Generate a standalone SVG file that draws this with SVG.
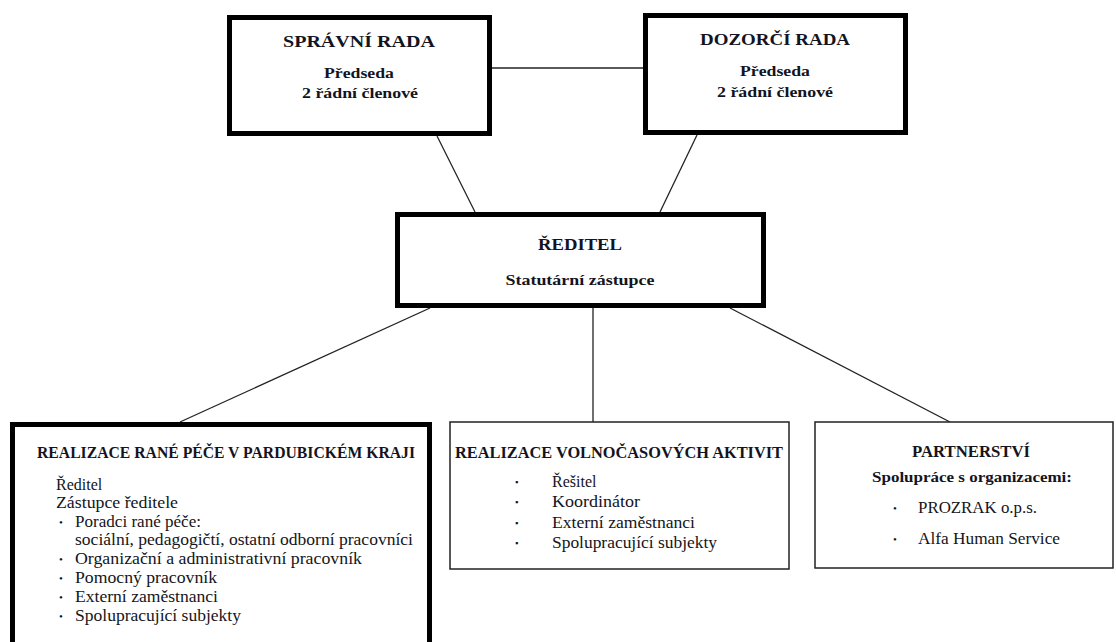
<svg xmlns="http://www.w3.org/2000/svg" width="1116" height="642" viewBox="0 0 1116 642">
<style>
.thick{fill:#fff;stroke:#000;stroke-width:5}
.thin{fill:#fff;stroke:#222;stroke-width:1.5}
.con{stroke:#222;stroke-width:1.3;fill:none}
text{font-family:"Liberation Serif","DejaVu Serif",serif;fill:#141420}
.h{font-weight:bold;font-size:17px}
.hs{font-weight:bold;font-size:16px}
.b{font-weight:bold;font-size:15.5px}
.r{font-size:16px}
.dot{font-size:11px}
.sq{font-size:9px}
.c{text-anchor:middle}
</style>
<rect width="1116" height="642" fill="#fff"/>
<g id="connectors">
<line class="con" x1="492" y1="68" x2="646" y2="68"/>
<line class="con" x1="437" y1="136" x2="475" y2="212"/>
<line class="con" x1="697" y1="135" x2="660" y2="212"/>
<line class="con" x1="430" y1="308" x2="180" y2="422"/>
<line class="con" x1="593" y1="308" x2="593" y2="422"/>
<line class="con" x1="730" y1="308" x2="950" y2="422"/>
</g>
<g id="spravni-rada">
<rect class="thick" x="229.5" y="17.5" width="260" height="116"/>
<text class="h c" x="359" y="47" textLength="152" lengthAdjust="spacingAndGlyphs">SPRÁVNÍ RADA</text>
<text class="b c" x="359" y="78" textLength="70" lengthAdjust="spacingAndGlyphs">Předseda</text>
<text class="b c" x="360" y="98" textLength="116" lengthAdjust="spacingAndGlyphs">2 řádní členové</text>
</g>
<g id="dozorci-rada">
<rect class="thick" x="645.5" y="15.5" width="260" height="117"/>
<text class="h c" x="775" y="45" textLength="150" lengthAdjust="spacingAndGlyphs">DOZORČÍ RADA</text>
<text class="b c" x="775" y="76" textLength="70" lengthAdjust="spacingAndGlyphs">Předseda</text>
<text class="b c" x="775" y="97" textLength="116" lengthAdjust="spacingAndGlyphs">2 řádní členové</text>
</g>
<g id="reditel">
<rect class="thick" x="397.5" y="214.5" width="366" height="91"/>
<text class="h c" x="580" y="250" textLength="84" lengthAdjust="spacingAndGlyphs">ŘEDITEL</text>
<text class="b c" x="580" y="285" textLength="149" lengthAdjust="spacingAndGlyphs">Statutární zástupce</text>
</g>
<g id="rana-pece">
<rect class="thick" x="12.5" y="424.5" width="417" height="240"/>
<text class="hs" x="37" y="458" textLength="378" lengthAdjust="spacingAndGlyphs">REALIZACE RANÉ PÉČE V PARDUBICKÉM KRAJI</text>
<text class="r" x="56" y="490">Ředitel</text>
<text class="r" x="56" y="508" textLength="122" lengthAdjust="spacingAndGlyphs">Zástupce ředitele</text>
<text class="dot" x="59" y="526">•</text>
<text class="r" x="75" y="527" textLength="126" lengthAdjust="spacingAndGlyphs">Poradci rané péče:</text>
<text class="r" x="75" y="545" textLength="338" lengthAdjust="spacingAndGlyphs">sociální, pedagogičtí, ostatní odborní pracovníci</text>
<text class="dot" x="59" y="563">•</text>
<text class="r" x="75" y="564" textLength="287" lengthAdjust="spacingAndGlyphs">Organizační a administrativní pracovník</text>
<text class="dot" x="59" y="582">•</text>
<text class="r" x="75" y="583" textLength="142" lengthAdjust="spacingAndGlyphs">Pomocný pracovník</text>
<text class="dot" x="59" y="601">•</text>
<text class="r" x="75" y="602" textLength="143" lengthAdjust="spacingAndGlyphs">Externí zaměstnanci</text>
<text class="dot" x="59" y="620">•</text>
<text class="r" x="75" y="621" textLength="166" lengthAdjust="spacingAndGlyphs">Spolupracující subjekty</text>
</g>
<g id="volnocasove-aktivity">
<rect class="thin" x="450" y="422" width="339" height="147"/>
<text class="hs" x="455" y="458" textLength="328" lengthAdjust="spacingAndGlyphs">REALIZACE VOLNOČASOVÝCH AKTIVIT</text>
<text class="sq" x="515" y="485">▪</text>
<text class="r" x="552" y="487">Řešitel</text>
<text class="sq" x="515" y="505">▪</text>
<text class="r" x="552" y="507" textLength="88" lengthAdjust="spacingAndGlyphs">Koordinátor</text>
<text class="sq" x="515" y="526">▪</text>
<text class="r" x="552" y="528" textLength="143" lengthAdjust="spacingAndGlyphs">Externí zaměstnanci</text>
<text class="sq" x="515" y="546">▪</text>
<text class="r" x="552" y="548" textLength="165" lengthAdjust="spacingAndGlyphs">Spolupracující subjekty</text>
</g>
<g id="partnerstvi">
<rect class="thin" x="815" y="422" width="298" height="146"/>
<text class="hs c" x="971" y="457" textLength="118" lengthAdjust="spacingAndGlyphs">PARTNERSTVÍ</text>
<text class="b c" x="972" y="482" textLength="200" lengthAdjust="spacingAndGlyphs">Spolupráce s organizacemi:</text>
<text class="dot" x="893" y="512">•</text>
<text class="r" x="918" y="513" textLength="119" lengthAdjust="spacingAndGlyphs">PROZRAK o.p.s.</text>
<text class="dot" x="893" y="543">•</text>
<text class="r" x="918" y="544" textLength="142" lengthAdjust="spacingAndGlyphs">Alfa Human Service</text>
</g>
</svg>
